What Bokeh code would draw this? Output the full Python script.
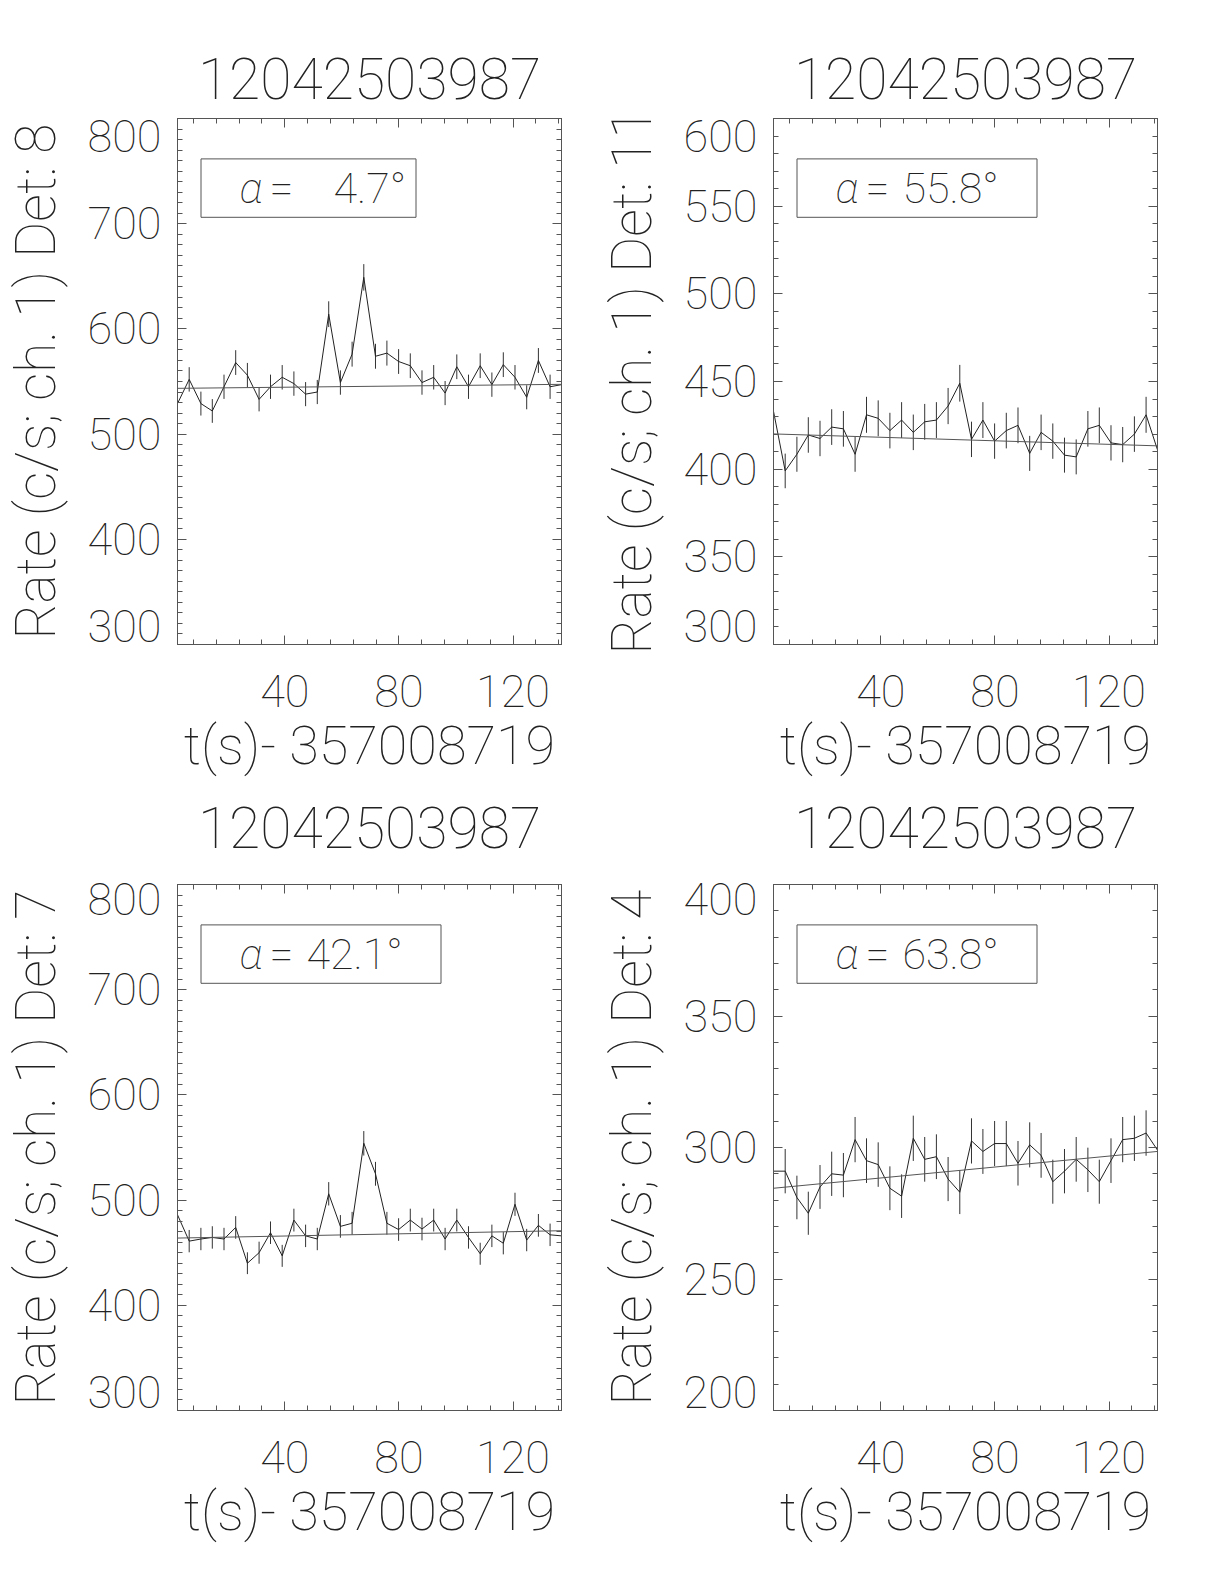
import numpy as np
from bokeh.plotting import figure
from bokeh.models import Range1d, SingleIntervalTicker, LinearAxis, Label, BoxAnnotation, CustomJSTickFormatter, Title
from bokeh.layouts import column, row
from bokeh.embed import file_html
from bokeh.resources import INLINE

# ---------------- data ----------------
BIN_S = 4.096
burst_id = "12042503987"
t_offset_label = "t(s)- 357008719"

times = [2.4, 6.5, 10.6, 14.6, 18.7, 22.8, 26.9, 31.0, 35.0, 39.1, 43.2, 47.3,
         51.4, 55.4, 59.5, 63.6, 67.7, 71.8, 75.8, 79.9, 84.0, 88.1, 92.2, 96.2,
         100.3, 104.4, 108.5, 112.6, 116.6, 120.7, 124.8, 128.9, 133.0, 137.0]

rate_det8 = [529, 552, 529, 522, 545, 568, 556, 533, 545, 554, 548, 538,
             540, 614, 549, 576, 649, 574, 577, 569, 565, 549, 554, 539,
             564, 545, 565, 547, 566, 554, 535, 570, 545, 547]
rate_det11 = [433, 399, 408.5, 419.5, 417.5, 424, 423, 408.5, 431, 429, 422, 428,
              421, 427, 428, 436, 449, 417, 428, 416, 422, 425, 409, 421,
              416, 408, 407, 423, 425, 415, 414, 420, 431, 411]
rate_det7 = [486, 461, 463, 464.5, 463, 474, 440, 450, 469, 447, 481, 466,
             463, 506, 475, 478, 554, 525, 478, 472, 481, 472.5, 481, 463,
             481, 464.5, 449, 466, 459, 496, 462, 476, 467, 466]
rate_det4 = [291, 291, 281, 275, 285, 290, 289.5, 303, 295, 293.5, 284.5, 281.5,
             303.5, 295.5, 296.5, 288, 283, 302.5, 298.5, 301.5, 301.5, 294, 301, 297,
             287, 291, 295.5, 291.5, 287, 295, 303, 303.5, 305.5, 299]

fit_det8 = [543.5, 547.3]
fit_det11 = [420.1, 413.3]
fit_det7 = [463.9, 470.9]
fit_det4 = [284.5, 298.5]

detectors = ["8", "11", "7", "4"]
angles = ["4.7", "55.8", "42.1", "63.8"]
y_limits = [(300, 800), (300, 600), (300, 800), (200, 400)]
y_major = [100, 50, 100, 50]
y_minor_n = [10, 5, 10, 5]
rates = [rate_det8, rate_det11, rate_det7, rate_det4]
fits = [fit_det8, fit_det11, fit_det7, fit_det4]

# ---------------- styling ----------------
FONT = "'Roboto Thin', 'Roboto Light', Roboto, sans-serif"
TXT = "#222222"
AX = "#555555"
FW, FH = 384, 526
TITLE_SIZE = "57px"

# end labels of the y axis are kept inside the axis span (IDL style)
END_LABELS_JS = """
const s = String(tick);
if (shift_top && Math.abs(tick - top) < 1e-6) return "\\n" + s;
if (Math.abs(tick - bot) < 1e-6) return s + "\\n";
return s;
"""


def style_axis(ax, labels=True):
    ax.axis_line_color = AX
    ax.major_tick_line_color = AX
    ax.minor_tick_line_color = AX
    ax.major_tick_in = 9
    ax.major_tick_out = 0
    ax.minor_tick_in = 5
    ax.minor_tick_out = 0
    ax.major_label_text_font = FONT
    ax.major_label_text_color = TXT
    ax.axis_label_text_font = FONT
    ax.axis_label_text_color = TXT
    ax.axis_label_text_font_style = "normal"
    if not labels:
        ax.formatter = CustomJSTickFormatter(code="return ''")
        ax.major_label_text_font_size = "1px"
        ax.major_label_standoff = 0


def style_title(t, standoff):
    t.align = "center"
    t.text_font = FONT
    t.text_font_size = TITLE_SIZE
    t.text_font_style = "normal"
    t.text_color = TXT
    t.standoff = standoff


def make_panel(i):
    ymin, ymax = y_limits[i]
    x0, x1 = times[0], times[-1]
    top_row = i < 2
    p = figure(frame_width=FW, frame_height=FH,
               min_border_left=177, min_border_right=35,
               min_border_top=118 if top_row else 12,
               min_border_bottom=228 if top_row else 156,
               x_range=Range1d(x0, x1), y_range=Range1d(ymin, ymax),
               output_backend="svg", toolbar_location=None,
               title=burst_id if top_row else None)
    p.grid.visible = False
    p.outline_line_color = AX
    p.background_fill_color = "white"
    p.border_fill_color = "white"
    if top_row:
        style_title(p.title, 40)

    p.xaxis.ticker = SingleIntervalTicker(interval=40, num_minor_ticks=5)
    p.yaxis.ticker = SingleIntervalTicker(interval=y_major[i], num_minor_ticks=y_minor_n[i])
    style_axis(p.xaxis[0])
    style_axis(p.yaxis[0])
    p.yaxis.formatter = CustomJSTickFormatter(
        args=dict(top=ymax, bot=ymin, shift_top=top_row), code=END_LABELS_JS)
    p.yaxis.major_label_text_line_height = 0.67
    p.xaxis.major_label_text_font_size = "45px"
    p.yaxis.major_label_text_font_size = "45px"
    p.xaxis.major_label_standoff = 30
    p.yaxis.major_label_standoff = 16
    p.xaxis.axis_label = t_offset_label
    p.yaxis.axis_label = "Rate (c/s; ch. 1) Det: " + detectors[i]
    p.xaxis.axis_label_text_font_size = "54px"
    p.yaxis.axis_label_text_font_size = "55px"
    p.xaxis.axis_label_standoff = 4
    p.yaxis.axis_label_standoff = 17

    top = LinearAxis(ticker=SingleIntervalTicker(interval=40, num_minor_ticks=5))
    style_axis(top, labels=False)
    p.add_layout(top, "above")
    right = LinearAxis(ticker=SingleIntervalTicker(interval=y_major[i], num_minor_ticks=y_minor_n[i]))
    style_axis(right, labels=False)
    p.add_layout(right, "right")

    if top_row:
        # heading of the panel underneath, carried by this figure's lower border
        below_title = Title(text=burst_id)
        style_title(below_title, 50)
        p.add_layout(below_title, "below")

    r = np.array(rates[i], dtype=float)
    err = np.sqrt(r * BIN_S) / BIN_S
    t = np.array(times)
    p.segment(x0=t, y0=r - err, x1=t, y1=r + err, line_color="#333333", line_width=1)
    p.line(t, r, line_color="#222222", line_width=1)
    p.line([x0, x1], fits[i], line_color="#555555", line_width=1)

    # positions below are given in frame pixels and converted to data units
    sx = (x1 - x0) / FW
    sy = (ymax - ymin) / FH

    box_w = 215 + 25 * (len(angles[i]) - 3)
    p.add_layout(BoxAnnotation(left=x0 + 23.5 * sx, right=x0 + (23.5 + box_w) * sx,
                               top=ymax - 40.4 * sy, bottom=ymax - 98.8 * sy,
                               fill_alpha=0, line_color=AX, line_alpha=1.0, line_width=1))
    base_y = ymax - 69 * sy
    p.add_layout(Label(x=x0 + 62 * sx, y=base_y, text="α", text_font=FONT,
                       text_font_style="italic", text_font_size="43px",
                       text_color=TXT, text_baseline="alphabetic"))
    p.add_layout(Label(x=x0 + 92 * sx, y=base_y, text="=", text_font=FONT,
                       text_font_size="43px", text_color=TXT,
                       text_baseline="alphabetic"))
    num_x = 129 + 27 * (4 - len(angles[i]))
    p.add_layout(Label(x=x0 + num_x * sx, y=base_y, text=angles[i] + "°",
                       text_font=FONT, text_font_size="43px",
                       text_color=TXT, text_baseline="alphabetic"))
    return p


panels = [make_panel(i) for i in range(4)]
layout = column(row(panels[0], panels[1]), row(panels[2], panels[3]))

open("out.html", "w").write(file_html(layout, INLINE))
